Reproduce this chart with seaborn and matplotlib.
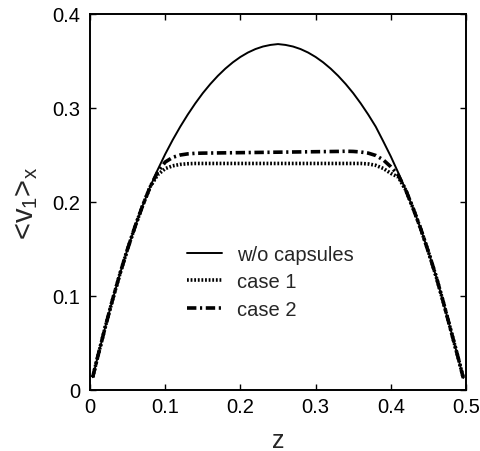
import numpy as np
import pandas as pd
import matplotlib
matplotlib.use("Agg")
import matplotlib.pyplot as plt
import seaborn as sns

# ---- data ----
z = [0.0036, 0.01, 0.02, 0.03, 0.04, 0.05, 0.06, 0.07, 0.08, 0.09,
     0.10, 0.11, 0.12, 0.13, 0.14, 0.15, 0.16, 0.17, 0.18, 0.19,
     0.20, 0.21, 0.22, 0.23, 0.24, 0.25, 0.26, 0.27, 0.28, 0.29,
     0.30, 0.31, 0.32, 0.33, 0.34, 0.35, 0.36, 0.37, 0.38, 0.39,
     0.40, 0.41, 0.42, 0.43, 0.44, 0.45, 0.46, 0.47, 0.48, 0.49, 0.4964]

v_without = [0.0136, 0.0346, 0.0661, 0.0961, 0.1241, 0.1501, 0.1741, 0.1961, 0.2161, 0.2343,
             0.2509, 0.2661, 0.2801, 0.2930, 0.3049, 0.3158, 0.3255, 0.3342, 0.3419, 0.3486,
             0.3543, 0.3590, 0.3627, 0.3654, 0.3671, 0.3680, 0.3671, 0.3654, 0.3627, 0.3590,
             0.3543, 0.3486, 0.3419, 0.3342, 0.3255, 0.3158, 0.3049, 0.2930, 0.2801, 0.2645,
             0.2485, 0.2310, 0.2125, 0.1925, 0.1710, 0.1470, 0.1215, 0.0930, 0.0630, 0.0330, 0.0128]

v_case1 = [0.0136, 0.0346, 0.0661, 0.0961, 0.1241, 0.1501, 0.1741, 0.1961, 0.2161, 0.2290,
           0.2355, 0.2385, 0.2400, 0.2407, 0.2410, 0.2410, 0.2410, 0.2410, 0.2410, 0.2410,
           0.2410, 0.2410, 0.2410, 0.2410, 0.2410, 0.2410, 0.2410, 0.2410, 0.2410, 0.2410,
           0.2410, 0.2410, 0.2410, 0.2410, 0.2410, 0.2410, 0.2410, 0.2405, 0.2390, 0.2357,
           0.2305, 0.2265, 0.2125, 0.1925, 0.1710, 0.1470, 0.1215, 0.0930, 0.0630, 0.0330, 0.0128]

v_case2 = [0.0136, 0.0346, 0.0661, 0.0961, 0.1241, 0.1501, 0.1741, 0.1961, 0.2161, 0.2320,
           0.2425, 0.2475, 0.2500, 0.2512, 0.2518, 0.2520, 0.2521, 0.2522, 0.2523, 0.2524,
           0.2525, 0.2526, 0.2527, 0.2528, 0.2529, 0.2530, 0.2531, 0.2532, 0.2533, 0.2534,
           0.2535, 0.2536, 0.2537, 0.2538, 0.2540, 0.2538, 0.2532, 0.2520, 0.2495, 0.2448,
           0.2375, 0.2285, 0.2125, 0.1925, 0.1710, 0.1470, 0.1215, 0.0930, 0.0630, 0.0330, 0.0128]

series_names = ["w/o capsules", "case 1", "case 2"]
x_ticks = [0, 0.1, 0.2, 0.3, 0.4, 0.5]
x_tick_labels = ["0", "0.1", "0.2", "0.3", "0.4", "0.5"]
y_ticks = [0, 0.1, 0.2, 0.3, 0.4]
y_tick_labels = ["0", "0.1", "0.2", "0.3", "0.4"]

# ---- styling ----
sns.set_style("ticks")
plt.rcParams["font.family"] = ["Liberation Sans", "DejaVu Sans"]
plt.rcParams["mathtext.default"] = "regular"

fig = plt.figure(figsize=(4.81, 4.52), dpi=100)
ax = fig.add_axes([90 / 481, 1 - 391 / 452, 376 / 481, 376 / 452])

styles = {
    "w/o capsules": dict(linestyle="-", linewidth=1.4),
    "case 1": dict(linestyle=(0, (0.5, 0.5)), linewidth=2.6),
    "case 2": dict(linestyle=(0, (2.6, 1.0, 0.6, 1.0)), linewidth=2.6),
}

values = {"w/o capsules": v_without, "case 1": v_case1, "case 2": v_case2}
for name in series_names:
    df = pd.DataFrame({"z": z, "v": values[name]})
    sns.lineplot(data=df, x="z", y="v", ax=ax, color="black", label=name,
                 sort=False, estimator=None, **styles[name])

ax.set_xlim(0, 0.5)
ax.set_ylim(0, 0.4)
ax.set_xticks(x_ticks)
ax.set_xticklabels(x_tick_labels)
ax.set_yticks(y_ticks)
ax.set_yticklabels(y_tick_labels)
ax.tick_params(direction="in", length=4, width=1, top=True, right=True,
               labelsize=14.5, colors="black")
ax.tick_params(axis="x", pad=5)
ax.tick_params(axis="y", pad=7)
for sp in ax.spines.values():
    sp.set_visible(True)
    sp.set_linewidth(1.4)
    sp.set_color("black")

ax.set_xlabel("z", fontsize=18, labelpad=9)
ax.set_ylabel(r"<v$_1$>$_x$", fontsize=21, labelpad=9)

leg = ax.legend(loc="center left", bbox_to_anchor=(187 / 481, 1 - 283 / 452),
                bbox_transform=fig.transFigure, frameon=False, fontsize=14.5,
                handlelength=1.75, handletextpad=0.75, labelspacing=0.42,
                borderpad=0, borderaxespad=0)

fig.savefig("out.png", dpi=100)
